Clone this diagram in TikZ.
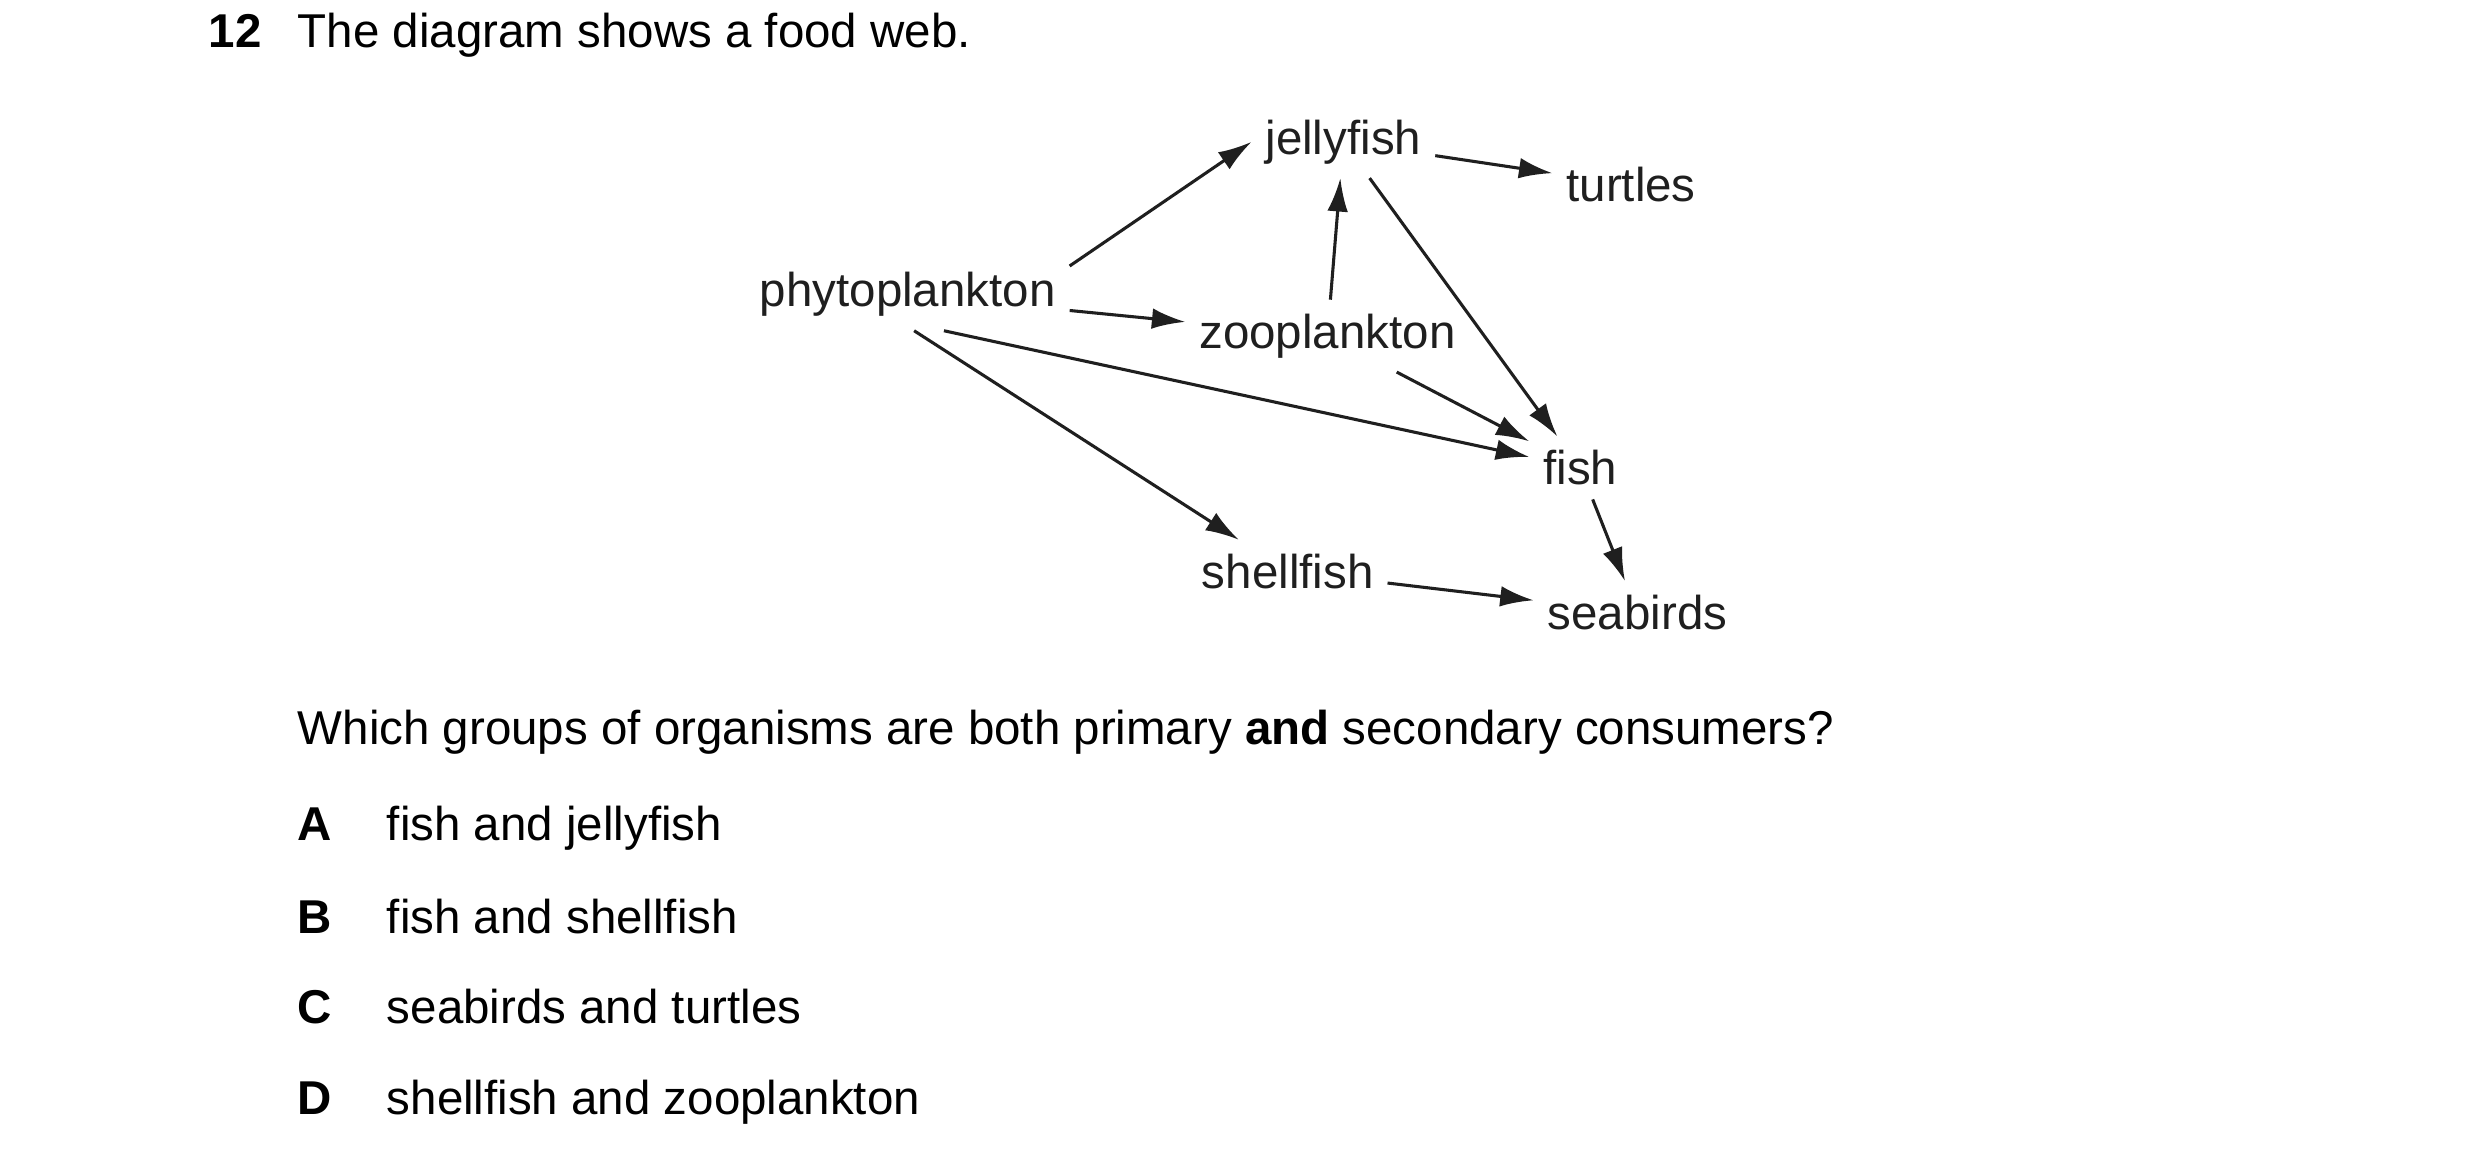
\documentclass[tikz,border=0pt]{standalone}
\usepackage{fontspec}
\setmainfont{Liberation Sans}
\usetikzlibrary{arrows.meta}
\begin{document}
\begin{tikzpicture}[x=0.02cm,y=-0.02cm,
  lab/.style={font=\fontsize{17}{20}\selectfont, inner sep=0pt, anchor=base},
  org/.style={lab, inner sep=0.17cm, text=black!88},
  txt/.style={lab, anchor=base west},
  arr/.style={line width=1.1pt, draw=black!88, -{Latex[length=0.42cm,width=0.26cm]}}]
\useasboundingbox[fill=white] (0,0) rectangle (1560,727);
\node[txt,font=\fontsize{17}{20}\selectfont\bfseries] (num) at (131,30) {12};
\node[txt] (head) at (187,30) {The diagram shows a food web.};
\node[org] (jel) at (845,97) {jellyfish};
\node[org] (tur) at (1026,127) {turtles};
\node[org] (phy) at (571,193) {phytoplankton};
\node[org] (zoo) at (835,219) {zooplankton};
\node[org] (fis) at (994,305) {fish};
\node[org] (she) at (810,370) {shellfish};
\node[org] (sea) at (1030,396) {seabirds};
\draw[arr] (phy.10) -- (jel.west);
\draw[arr] (phy) -- (zoo);
\draw[arr] (phy.-45) -- (fis);
\draw[arr] (phy.-80) -- (she);
\draw[arr] (zoo) -- (jel);
\draw[arr] (jel) -- (tur);
\draw[arr] (jel) -- (fis);
\draw[arr] (zoo) -- (fis);
\draw[arr] (fis) -- (sea);
\draw[arr] (she) -- (sea);
\node[txt] (q) at (187,468) {Which groups of organisms are both primary \textbf{and} secondary consumers?};
\node[txt,font=\fontsize{17}{20}\selectfont\bfseries] (la) at (187,529) {A};
\node[txt] (ta) at (243,529) {fish and jellyfish};
\node[txt,font=\fontsize{17}{20}\selectfont\bfseries] (lb) at (187,587) {B};
\node[txt] (tb) at (243,587) {fish and shellfish};
\node[txt,font=\fontsize{17}{20}\selectfont\bfseries] (lc) at (187,644) {C};
\node[txt] (tc) at (243,644) {seabirds and turtles};
\node[txt,font=\fontsize{17}{20}\selectfont\bfseries] (ld) at (187,701) {D};
\node[txt] (td) at (243,701) {shellfish and zooplankton};
\end{tikzpicture}
\end{document}
